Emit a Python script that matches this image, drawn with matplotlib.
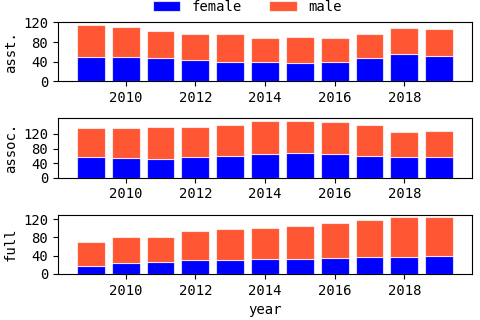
import numpy as np
import matplotlib
matplotlib.use("Agg")
import matplotlib.pyplot as plt

plt.rcParams['font.family'] = ['DejaVu Sans Mono']
plt.rcParams['font.size'] = 10

# --- data ---
years = [2009, 2010, 2011, 2012, 2013, 2014, 2015, 2016, 2017, 2018, 2019]

asst_female = [50, 50, 48, 43, 39, 40, 38, 40, 48, 55, 52]
asst_total = [115, 111, 103, 97, 96, 89, 90, 89, 97, 109, 107]

assoc_female = [57, 54, 52, 57, 60, 65, 68, 66, 60, 57, 57]
assoc_total = [137, 136, 140, 140, 144, 155, 155, 152, 144, 125, 129]

full_female = [17, 23, 27, 30, 30, 32, 32, 34, 36, 38, 40]
full_total = [71, 82, 82, 93, 99, 101, 105, 112, 119, 124, 124]

ranks = ["asst.", "assoc.", "full"]
female_counts = [asst_female, assoc_female, full_female]
total_counts = [asst_total, assoc_total, full_total]

blue = "#0000ff"
orange = "#ff5733"

fig, axes = plt.subplots(3, 1, figsize=(4.8, 3.2), dpi=100)
fig.subplots_adjust(left=0.121, right=0.983, top=0.931, bottom=0.144, hspace=0.62)

for ax, rank, fem, tot in zip(axes, ranks, female_counts, total_counts):
    fem = np.array(fem)
    male = np.array(tot) - fem
    ax.bar(years, fem, color=blue, edgecolor=(1, 1, 1, 0.7), linewidth=0.8, label="female")
    ax.bar(years, male, bottom=fem, color=orange, edgecolor=(1, 1, 1, 0.7), linewidth=0.8,
           label="male")
    ax.set_ylabel(rank)
    ax.set_yticks([0, 40, 80, 120])
    ax.set_xticks([2010, 2012, 2014, 2016, 2018])

axes[-1].set_xlabel("year")

handles, labels = axes[0].get_legend_handles_labels()
fig.legend(handles, labels, loc="upper center", ncol=2, frameon=False,
           bbox_to_anchor=(0.515, 1.04))

plt.savefig("out.png", dpi=100)
